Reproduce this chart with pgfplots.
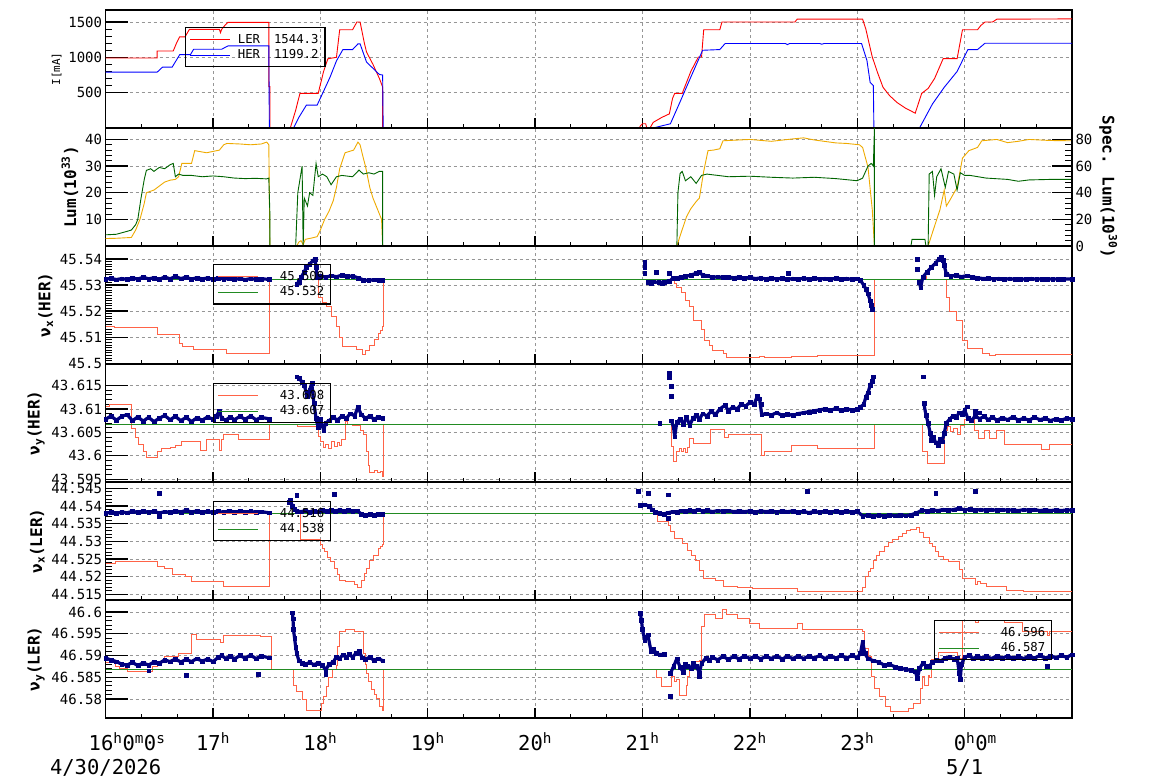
\documentclass[border=0pt]{standalone}
\usepackage{fontspec}
\setmainfont{DejaVu Sans Mono}
\usepackage{pgfplots}
\pgfplotsset{compat=1.18}
\definecolor{lerred}{RGB}{255,0,0}
\definecolor{herblue}{RGB}{0,0,255}
\definecolor{lumorange}{RGB}{238,170,0}
\definecolor{lumgreen}{RGB}{0,100,0}
\definecolor{setred}{RGB}{255,99,71}
\definecolor{refgreen}{RGB}{34,139,34}
\definecolor{navydot}{RGB}{0,0,128}
\definecolor{gridgray}{RGB}{150,150,150}
\pgfplotsset{
 panel/.style={
  scale only axis, width=966.4pt, height=118pt, anchor=north west,
  xmin=16, xmax=25,
  xtick={16,...,25}, minor x tick num=2, xticklabels={},
  scaled y ticks=false,
  tick align=inside, xtick pos=bottom, ytick pos=left,
  xmajorgrids, ymajorgrids,
  major grid style={dash pattern=on 3pt off 3pt, gridgray, line width=0.7pt},
  axis line style={line width=1.3pt},
  major tick length=22pt, minor tick length=6pt,
  major tick style={line width=1.3pt, black},
  minor tick style={line width=0.9pt, black},
  xtick style={/pgfplots/major tick length=10pt, /pgfplots/minor tick length=4pt},
  tick label style={font=\fontsize{14}{16}\selectfont},
  legend image code/.code={\draw[##1] (0pt,0pt) -- (40pt,0pt);},
  legend style={draw=black, line width=1.2pt, fill=none, font=\fontsize{12.3}{15}\selectfont,
    anchor=north west, cells={anchor=west}, inner sep=4.5pt, column sep=5pt, row sep=1pt},
 },
 setline/.style={setred, line width=0.9pt, const plot},
 refline/.style={refgreen, line width=0.9pt},
 band/.style={navydot, line width=3.2pt, line join=round, mark=square*, mark size=1.9pt,
   mark options={line width=0.3pt, line join=miter}, unbounded coords=jump, forget plot},
 outl/.style={navydot, only marks, mark=square*, mark size=1.9pt, mark options={line width=0.3pt}, forget plot},
}
\begin{document}
\begin{tikzpicture}
\useasboundingbox (0,0) rectangle (1154pt,782pt);

% ---------------- Panel 1: currents
\begin{axis}[panel, at={(105.6pt,772pt)}, ymin=0, ymax=1670,
  ytick={500,1000,1500}, yticklabels={500,1000,1500}, minor y tick num=4,
  ylabel={\fontsize{11}{12}\selectfont I[mA]},
  legend style={at={(0.082,0.856)}}]
\addplot[lerred, line width=0.9pt] coordinates {(16.00,990) (16.48,990) (16.48,1090) (16.63,1090) (16.66,1200) (16.69,1290) (16.74,1290) (16.78,1395) (17.06,1395) (17.07,1350) (17.08,1395) (17.11,1450) (17.14,1495) (17.52,1495) (17.52,585) (17.53,585) (17.53,0) (17.72,0) (17.77,250) (17.81,490) (17.98,490) (18.03,800) (18.07,980) (18.15,1000) (18.18,1390) (18.30,1390) (18.34,1500) (18.37,1500) (18.41,1200) (18.43,1075) (18.49,900) (18.55,700) (18.58,580) (18.58,0) (20.97,0) (20.98,30) (21.00,60) (21.03,60) (21.04,0) (21.07,0) (21.10,80) (21.18,150) (21.25,200) (21.28,420) (21.30,490) (21.37,490) (21.45,800) (21.52,1005) (21.55,1005) (21.57,1390) (21.72,1390) (21.74,1500) (22.42,1500) (22.44,1540) (23.05,1540) (23.08,1400) (23.11,1200) (23.14,1005) (23.19,780) (23.24,576) (23.30,460) (23.37,361) (23.45,280) (23.54,210) (23.57,350) (23.60,490) (23.66,560) (23.72,700) (23.80,981) (23.93,981) (23.98,1390) (24.12,1390) (24.15,1450) (24.19,1500) (24.26,1500) (24.30,1540) (25.00,1544)};
\addlegendentry{LER\hspace{14pt}1544.3}
\addplot[herblue, line width=0.9pt] coordinates {(16.00,790) (16.48,790) (16.53,861) (16.62,861) (16.69,1038) (16.79,1038) (16.82,1114) (17.08,1114) (17.14,1162) (17.52,1162) (17.525,0) (17.75,0) (17.80,150) (17.87,324) (17.97,324) (18.03,520) (18.09,719) (18.15,950) (18.21,1110) (18.30,1110) (18.35,1190) (18.37,1190) (18.43,933) (18.50,830) (18.55,757) (18.58,750) (18.585,0) (21.10,0) (21.26,60) (21.35,370) (21.45,720) (21.56,1100) (21.72,1110) (21.77,1196) (22.33,1196) (22.35,1180) (22.37,1196) (22.65,1196) (22.67,1185) (22.69,1196) (23.04,1196) (23.09,957) (23.12,647) (23.15,600) (23.155,0) (23.58,0) (23.70,339) (23.81,576) (23.93,800) (24.03,1110) (24.12,1110) (24.19,1200) (25.00,1200)};
\addlegendentry{HER\hspace{14pt}1199.2}
\end{axis}

% ---------------- Panel 2: luminosity
\begin{axis}[panel, at={(105.6pt,654pt)}, ymin=0, ymax=44.3,
  ytick={10,20,30,40}, yticklabels={10,20,30,40}, minor y tick num=4,
  ylabel={\fontsize{16}{18}\selectfont\bfseries Lum(10\textsuperscript{33})}]
\addplot[lumorange, line width=0.9pt] coordinates {(16.00,2.8) (16.10,2.9) (16.24,3.2) (16.28,6) (16.32,10) (16.36,16) (16.38,20) (16.45,21) (16.50,22.5) (16.55,24) (16.60,24.7) (16.65,25) (16.68,26) (16.71,31) (16.80,31) (16.83,35.8) (16.94,35) (17.00,35.5) (17.06,36) (17.10,38) (17.13,38.5) (17.25,38.3) (17.35,38) (17.45,38.3) (17.50,39) (17.52,38) (17.53,0) (17.78,0) (17.80,1.5) (17.82,2) (17.84,0.5) (17.86,2.5) (17.92,3) (17.97,3.5) (18.00,6) (18.04,10) (18.08,13) (18.12,17) (18.15,22) (18.18,29) (18.23,35) (18.31,36) (18.35,39) (18.37,38) (18.40,33) (18.42,30) (18.46,22) (18.49,18) (18.52,15) (18.57,10) (18.58,0) (21.32,0) (21.36,5) (21.41,11) (21.45,14) (21.50,16.7) (21.53,18) (21.57,28) (21.61,35.8) (21.66,36) (21.72,36.5) (21.75,39.5) (21.90,39.8) (22.00,40) (22.20,39.3) (22.40,40.2) (22.50,40.6) (22.60,39.8) (22.80,38.7) (22.90,38.5) (23.02,38) (23.05,37) (23.10,29.6) (23.14,13.6) (23.16,0) (23.66,0) (23.70,5) (23.77,13.6) (23.81,21) (23.83,15) (23.86,17) (23.93,22) (23.98,33) (24.04,35.8) (24.12,37) (24.16,39.5) (24.30,40) (24.40,38.8) (24.50,39.3) (24.60,40) (24.80,39.6) (25.00,39.5)};
\addplot[lumgreen, line width=0.9pt] coordinates {(16.00,4.2) (16.10,4.4) (16.20,5.5) (16.24,6) (16.28,8) (16.30,10) (16.33,18) (16.36,25) (16.38,28.4) (16.42,29) (16.45,28) (16.50,29.5) (16.55,29) (16.60,30.5) (16.63,31) (16.65,26) (16.68,27) (16.72,26.5) (16.80,26.5) (16.90,26) (17.00,26.3) (17.10,26) (17.20,25.5) (17.30,25.3) (17.40,25.4) (17.50,25.2) (17.52,25.5) (17.53,12) (17.53,0) (17.77,0) (17.79,20) (17.83,30) (17.84,0) (17.85,18) (17.88,15) (17.90,20) (17.93,19) (17.96,31) (17.98,26) (18.02,27) (18.06,26) (18.10,23) (18.15,26) (18.20,26.5) (18.30,26) (18.36,28.5) (18.40,27) (18.45,27.5) (18.50,27) (18.55,28) (18.58,28) (18.58,0) (21.32,0) (21.33,20) (21.35,27.2) (21.37,28) (21.40,24.5) (21.45,26) (21.50,23.5) (21.55,26.5) (21.60,27) (21.70,26.5) (21.80,26) (22.00,26.2) (22.20,25.8) (22.40,25.5) (22.60,25.8) (22.80,25.3) (23.00,24.5) (23.05,25.5) (23.10,30) (23.13,31) (23.15,30) (23.16,44.3) (23.16,0) (23.50,0) (23.51,2.5) (23.63,2.5) (23.64,0) (23.66,0) (23.67,27) (23.70,28) (23.72,19) (23.74,26) (23.78,29) (23.82,22) (23.85,28) (23.90,27) (23.93,21) (23.96,27.5) (24.00,26.5) (24.05,26.5) (24.20,25.5) (24.40,25) (24.50,24.3) (24.60,24.8) (24.80,25) (25.00,25)};
\end{axis}
\begin{axis}[scale only axis, width=966.4pt, height=118pt, anchor=north west, at={(105.6pt,654pt)},
  xmin=16, xmax=25, ymin=0, ymax=88.6, axis x line=none, axis y line*=right,
  ytick={0,20,40,60,80}, yticklabels={0,20,40,60,80}, minor y tick num=4,
  tick align=inside, major tick length=20pt, minor tick length=7pt,
  axis line style={line width=1.3pt},
  major tick style={line width=1.3pt, black}, minor tick style={line width=0.9pt, black},
  tick label style={font=\fontsize{14}{16}\selectfont},
  ylabel={\fontsize{16}{18}\selectfont\bfseries Spec. Lum(10\textsuperscript{30})},
  ylabel style={rotate=180}]
\end{axis}

% ---------------- Panel 3: nu_x(HER)
\begin{axis}[panel, at={(105.6pt,536pt)}, ymin=45.4997, ymax=45.545,
  ytick={45.5,45.51,45.52,45.53,45.54}, yticklabels={45.5,45.51,45.52,45.53,45.54}, minor y tick num=9,
  ylabel={\fontsize{16}{18}\selectfont\bfseries ν\textsubscript{x}(HER)},
  legend style={at={(0.111,0.847)}}]
\addplot[setline] table {
16.00 45.5142
16.08 45.5136
16.48 45.5111
16.69 45.5076
16.72 45.5066
16.82 45.5053
17.13 45.5038
17.53 45.5320
17.95 45.5336
17.98 45.5254
18.02 45.5235
18.06 45.5216
18.10 45.5180
18.15 45.5140
18.18 45.5100
18.21 45.5063
18.34 45.5051
18.39 45.5032
18.42 45.5050
18.46 45.5070
18.50 45.5090
18.54 45.5114
18.56 45.5125
18.58 45.5140
18.585 45.5320
21.26 45.5320
21.30 45.5305
21.32 45.5292
21.36 45.5270
21.40 45.5240
21.44 45.5216
21.47 45.5165
21.55 45.5130
21.58 45.5089
21.62 45.5070
21.65 45.5050
21.75 45.5038
21.78 45.5023
22.09 45.5026
22.14 45.5023
22.39 45.5027
22.63 45.5031
23.16 45.5320
23.61 45.5335
23.64 45.5320
23.83 45.5254
23.86 45.5197
23.92 45.5165
23.98 45.5089
24.03 45.5057
24.17 45.5038
24.23 45.5028
24.29 45.5032
24.72 45.5034
25.00 45.5034
};
\addlegendentry{\hspace{14pt}45.509}
\addplot[refline] coordinates {(16,45.532) (25,45.532)};
\addlegendentry{\hspace{14pt}45.532}
\addplot[band] table {
16.00 45.5323
16.05 45.5326
16.10 45.5321
16.15 45.5325
16.20 45.5322
16.25 45.5327
16.30 45.5323
16.35 45.5330
16.40 45.5324
16.45 45.5328
16.50 45.5322
16.55 45.5331
16.60 45.5324
16.65 45.5333
16.70 45.5325
16.75 45.5330
16.80 45.5323
16.85 45.5328
16.90 45.5324
16.95 45.5327
17.00 45.5322
17.05 45.5328
17.10 45.5323
17.15 45.5326
17.20 45.5322
17.25 45.5325
17.30 45.5321
17.35 45.5325
17.40 45.5322
17.45 45.5324
17.52 45.5322
17.60 nan
17.78 45.5305
17.80 45.5312
17.82 45.5330
17.85 45.5350
17.87 45.5370
17.90 45.5380
17.93 45.5394
17.95 45.5400
17.96 45.5370
17.97 45.5330
18.00 45.5334
18.05 45.5330
18.10 45.5336
18.15 45.5332
18.20 45.5338
18.25 45.5333
18.30 45.5335
18.35 45.5328
18.40 45.5320
18.45 45.5318
18.50 45.5321
18.55 45.5318
18.58 45.5320
19.00 nan
21.05 45.5311
21.10 45.5313
21.15 45.5310
21.20 45.5312
21.25 45.5314
21.28 45.5326
21.32 45.5328
21.36 45.5330
21.40 45.5333
21.45 45.5338
21.50 45.5345
21.53 45.5350
21.56 45.5338
21.60 45.5336
21.65 45.5330
21.70 45.5332
21.75 45.5329
21.80 45.5331
21.85 45.5328
21.90 45.5330
21.95 45.5327
22.00 45.5329
22.05 45.5325
22.10 45.5327
22.15 45.5324
22.20 45.5327
22.25 45.5323
22.30 45.5326
22.35 45.5322
22.40 45.5325
22.45 45.5323
22.50 45.5326
22.55 45.5322
22.60 45.5326
22.65 45.5323
22.70 45.5325
22.75 45.5322
22.80 45.5326
22.85 45.5323
22.90 45.5325
22.95 45.5322
23.00 45.5325
23.03 45.5318
23.06 45.5300
23.08 45.5285
23.10 45.5267
23.12 45.5240
23.13 45.5222
23.14 45.5209
23.30 nan
23.58 45.5311
23.59 45.5290
23.61 45.5330
23.65 45.5350
23.69 45.5368
23.73 45.5385
23.76 45.5400
23.78 45.5409
23.80 45.5395
23.81 45.5375
23.83 45.5343
23.87 45.5334
23.92 45.5337
23.97 45.5332
24.02 45.5336
24.07 45.5331
24.12 45.5328
24.17 45.5325
24.22 45.5326
24.27 45.5323
24.32 45.5325
24.37 45.5322
24.42 45.5325
24.47 45.5322
24.52 45.5324
24.57 45.5322
24.62 45.5325
24.67 45.5322
24.72 45.5324
24.77 45.5322
24.82 45.5324
24.87 45.5322
24.92 45.5324
25.00 45.5323
};
\addplot[outl] coordinates {(21.02,45.5387) (21.02,45.5368) (21.02,45.5347) (21.13,45.5350) (21.25,45.5347) (22.36,45.5345) (23.56,45.5400) (23.56,45.5362) (21.08,45.5306) (21.18,45.5306)};
\end{axis}

% ---------------- Panel 4: nu_y(HER)
\begin{axis}[panel, at={(105.6pt,418pt)}, ymin=43.5944, ymax=43.6196,
  ytick={43.595,43.6,43.605,43.61,43.615}, yticklabels={43.595,43.6,43.605,43.61,43.615}, minor y tick num=4,
  ylabel={\fontsize{16}{18}\selectfont\bfseries ν\textsubscript{y}(HER)},
  legend style={at={(0.111,0.839)}}]
\addplot[setline] table {
16.00 43.6105
16.04 43.6109
16.24 43.6059
16.28 43.6040
16.31 43.6025
16.35 43.6010
16.38 43.5997
16.48 43.6010
16.52 43.6015
16.60 43.6018
16.65 43.6022
16.71 43.6030
16.88 43.6011
16.94 43.6034
17.06 43.6012
17.08 43.6034
17.10 43.6045
17.24 43.6034
17.53 43.6067
17.79 43.6062
17.98 43.6041
18.00 43.6030
18.03 43.6018
18.05 43.6025
18.08 43.6016
18.10 43.6030
18.13 43.6020
18.16 43.6028
18.18 43.6022
18.20 43.6035
18.23 43.6073
18.25 43.6067
18.30 43.6065
18.37 43.6055
18.40 43.6045
18.43 43.6010
18.45 43.5980
18.46 43.5965
18.50 43.5968
18.53 43.5964
18.56 43.5966
18.58 43.5955
18.585 43.6067
21.27 43.6020
21.29 43.5988
21.32 43.6009
21.34 43.6015
21.36 43.6010
21.38 43.6016
21.40 43.6008
21.42 43.6018
21.44 43.6038
21.47 43.6027
21.63 43.6057
21.76 43.6040
21.80 43.6045
22.11 43.6000
22.14 43.6009
22.39 43.6021
22.63 43.6016
23.16 43.6067
23.61 43.6009
23.65 43.5984
23.81 43.6055
23.84 43.6062
23.87 43.6052
23.90 43.6058
23.93 43.6045
23.96 43.6065
24.00 43.6077
24.09 43.6055
24.13 43.6037
24.18 43.6055
24.23 43.6037
24.30 43.6055
24.37 43.6025
24.72 43.6014
24.79 43.6025
25.00 43.6025
};
\addlegendentry{\hspace{14pt}43.608}
\addplot[refline] coordinates {(16,43.6067) (25,43.6067)};
\addlegendentry{\hspace{14pt}43.607}
\addplot[band] table {
16.00 43.6078
16.05 43.6085
16.10 43.6076
16.15 43.6084
16.20 43.6088
16.25 43.6075
16.30 43.6083
16.35 43.6074
16.40 43.6082
16.45 43.6073
16.50 43.6080
16.55 43.6086
16.60 43.6077
16.65 43.6084
16.70 43.6075
16.75 43.6082
16.80 43.6073
16.85 43.6081
16.90 43.6076
16.95 43.6083
17.00 43.6078
17.03 43.6085
17.06 43.6095
17.08 43.6080
17.12 43.6076
17.16 43.6083
17.20 43.6077
17.25 43.6084
17.30 43.6078
17.35 43.6085
17.40 43.6077
17.45 43.6082
17.52 43.6079
17.60 nan
17.78 43.6169
17.80 43.6165
17.83 43.6158
17.85 43.6150
17.88 43.6127
17.90 43.6140
17.92 43.6155
17.94 43.6112
17.96 43.6080
17.98 43.6060
18.00 43.6078
18.03 43.6055
18.05 43.6070
18.08 43.6075
18.12 43.6082
18.16 43.6076
18.20 43.6085
18.24 43.6080
18.28 43.6090
18.32 43.6085
18.35 43.6105
18.38 43.6088
18.42 43.6080
18.46 43.6085
18.50 43.6078
18.54 43.6083
18.58 43.6080
19.00 nan
21.27 43.6075
21.29 43.6060
21.30 43.6041
21.32 43.6072
21.35 43.6078
21.38 43.6068
21.41 43.6082
21.44 43.6065
21.47 43.6080
21.50 43.6086
21.53 43.6078
21.56 43.6090
21.60 43.6085
21.64 43.6095
21.68 43.6088
21.72 43.6100
21.77 43.6108
21.80 43.6096
21.84 43.6104
21.88 43.6100
21.92 43.6110
21.96 43.6106
22.00 43.6114
22.04 43.6110
22.07 43.6128
22.09 43.6122
22.11 43.6088
22.15 43.6090
22.20 43.6087
22.25 43.6092
22.30 43.6086
22.35 43.6089
22.40 43.6086
22.45 43.6090
22.50 43.6092
22.55 43.6094
22.60 43.6096
22.65 43.6098
22.70 43.6100
22.75 43.6097
22.80 43.6101
22.85 43.6097
22.90 43.6100
22.95 43.6098
23.00 43.6099
23.03 43.6104
23.06 43.6110
23.08 43.6125
23.10 43.6135
23.12 43.6150
23.14 43.6160
23.15 43.6169
23.30 nan
23.62 43.6112
23.64 43.6087
23.66 43.6070
23.68 43.6048
23.69 43.6034
23.71 43.6040
23.73 43.6028
23.75 43.6023
23.77 43.6036
23.79 43.6030
23.81 43.6048
23.83 43.6070
23.86 43.6078
23.89 43.6085
23.92 43.6082
23.95 43.6092
23.98 43.6088
24.00 43.6098
24.03 43.6080
24.06 43.6075
24.10 43.6085
24.14 43.6079
24.18 43.6084
24.22 43.6077
24.26 43.6082
24.30 43.6076
24.35 43.6081
24.40 43.6077
24.45 43.6083
24.50 43.6076
24.55 43.6080
24.60 43.6076
24.65 43.6082
24.70 43.6077
24.75 43.6080
24.80 43.6075
24.85 43.6079
24.90 43.6076
24.95 43.6080
25.00 43.6078
};
\addplot[outl] coordinates {(21.16,43.6070) (21.25,43.6177) (21.25,43.6167) (21.27,43.6148) (21.27,43.6127) (23.61,43.6169) (24.02,43.6105) (24.10,43.6095) (24.14,43.6092) (22.11,43.6110)};
\end{axis}

% ---------------- Panel 5: nu_x(LER)
\begin{axis}[panel, at={(105.6pt,300pt)}, ymin=44.5134, ymax=44.5468,
  ytick={44.515,44.52,44.525,44.53,44.535,44.54,44.545}, yticklabels={44.515,44.52,44.525,44.53,44.535,44.54,44.545}, minor y tick num=4,
  ylabel={\fontsize{16}{18}\selectfont\bfseries ν\textsubscript{x}(LER)},
  legend style={at={(0.111,0.839)}}]
\addplot[setline] table {
16.00 44.5238
16.09 44.5244
16.48 44.5228
16.55 44.5224
16.62 44.5205
16.74 44.5201
16.80 44.5186
17.10 44.5173
17.40 44.5171
17.53 44.5379
17.81 44.5304
18.00 44.5290
18.02 44.5280
18.04 44.5271
18.07 44.5255
18.09 44.5242
18.13 44.5224
18.16 44.5205
18.18 44.5190
18.23 44.5186
18.32 44.5178
18.35 44.5170
18.38 44.5190
18.41 44.5210
18.43 44.5224
18.46 44.5245
18.49 44.5261
18.54 44.5280
18.56 44.5285
18.58 44.5290
18.585 44.5379
21.14 44.5355
21.24 44.5345
21.26 44.5327
21.30 44.5308
21.37 44.5295
21.42 44.5275
21.46 44.5260
21.49 44.5247
21.53 44.5219
21.57 44.5195
21.68 44.5190
21.75 44.5173
21.88 44.5170
22.02 44.5167
22.44 44.5159
23.05 44.5170
23.08 44.5200
23.10 44.5215
23.12 44.5224
23.15 44.5245
23.18 44.5260
23.21 44.5271
23.25 44.5285
23.29 44.5296
23.33 44.5304
23.38 44.5315
23.42 44.5322
23.46 44.5332
23.50 44.5335
23.55 44.5338
23.58 44.5325
23.62 44.5310
23.67 44.5294
23.70 44.5285
23.73 44.5270
23.76 44.5256
23.80 44.5250
23.85 44.5242
23.95 44.5220
23.98 44.5195
24.10 44.5178
24.12 44.5186
24.15 44.5180
24.20 44.5172
24.39 44.5162
24.55 44.5159
25.00 44.5159
};
\addlegendentry{\hspace{14pt}44.516}
\addplot[refline] coordinates {(16,44.5379) (25,44.5379)};
\addlegendentry{\hspace{14pt}44.538}
\addplot[band] table {
16.00 44.5380
16.05 44.5382
16.10 44.5379
16.15 44.5383
16.20 44.5381
16.25 44.5385
16.30 44.5382
16.35 44.5386
16.40 44.5382
16.45 44.5385
16.50 44.5380
16.55 44.5384
16.60 44.5382
16.65 44.5386
16.70 44.5383
16.75 44.5388
16.80 44.5383
16.85 44.5386
16.90 44.5382
16.95 44.5385
17.00 44.5382
17.05 44.5385
17.10 44.5382
17.15 44.5386
17.20 44.5383
17.25 44.5385
17.30 44.5382
17.35 44.5385
17.40 44.5382
17.45 44.5384
17.52 44.5381
17.60 nan
17.72 44.5417
17.74 44.5400
17.76 44.5392
17.78 44.5386
17.82 44.5384
17.86 44.5387
17.90 44.5383
17.94 44.5386
17.98 44.5384
18.02 44.5388
18.06 44.5385
18.10 44.5388
18.14 44.5386
18.18 44.5389
18.22 44.5386
18.26 44.5388
18.30 44.5385
18.34 44.5387
18.38 44.5378
18.42 44.5374
18.46 44.5377
18.50 44.5375
18.54 44.5377
18.58 44.5376
19.00 nan
20.98 44.5403
21.02 44.5404
21.06 44.5400
21.09 44.5390
21.12 44.5382
21.16 44.5379
21.20 44.5378
21.24 44.5381
21.28 44.5384
21.32 44.5383
21.36 44.5387
21.40 44.5385
21.44 44.5388
21.48 44.5386
21.52 44.5390
21.56 44.5385
21.60 44.5388
21.65 44.5384
21.70 44.5387
21.75 44.5385
21.80 44.5387
21.85 44.5384
21.90 44.5386
21.95 44.5384
22.00 44.5386
22.05 44.5383
22.10 44.5386
22.15 44.5384
22.20 44.5386
22.25 44.5383
22.30 44.5386
22.35 44.5384
22.40 44.5386
22.45 44.5383
22.50 44.5385
22.55 44.5381
22.60 44.5385
22.65 44.5382
22.70 44.5385
22.75 44.5383
22.80 44.5385
22.85 44.5383
22.90 44.5385
22.95 44.5383
23.00 44.5385
23.05 44.5372
23.10 44.5374
23.15 44.5371
23.20 44.5374
23.25 44.5372
23.30 44.5375
23.35 44.5373
23.40 44.5375
23.45 44.5373
23.50 44.5375
23.55 44.5380
23.60 44.5388
23.65 44.5386
23.70 44.5389
23.75 44.5387
23.80 44.5390
23.85 44.5388
23.90 44.5390
23.95 44.5394
24.00 44.5389
24.05 44.5391
24.10 44.5388
24.15 44.5390
24.20 44.5388
24.25 44.5390
24.30 44.5388
24.35 44.5390
24.40 44.5388
24.45 44.5389
24.50 44.5387
24.55 44.5390
24.60 44.5388
24.65 44.5390
24.70 44.5387
24.75 44.5389
24.80 44.5387
24.85 44.5389
24.90 44.5387
24.95 44.5389
25.00 44.5388
};
\addplot[outl] coordinates {(16.50,44.5436) (16.50,44.5372) (17.78,44.5431) (18.13,44.5434) (20.96,44.5443) (21.05,44.5436) (21.24,44.5432) (21.24,44.5365) (22.53,44.5443) (23.73,44.5436) (24.10,44.5442) (17.71,44.5412)};
\end{axis}

% ---------------- Panel 6: nu_y(LER)
\begin{axis}[panel, at={(105.6pt,182pt)}, ymin=46.5756, ymax=46.6028,
  ytick={46.58,46.585,46.59,46.595,46.6}, yticklabels={46.58,46.585,46.59,46.595,46.6}, minor y tick num=4,
  ylabel={\fontsize{16}{18}\selectfont\bfseries ν\textsubscript{y}(LER)},
  xticklabels={{16\textsuperscript{h}\rlap{0\textsuperscript{m}0\textsuperscript{s}}\\4/30/2026},17\textsuperscript{h},18\textsuperscript{h},19\textsuperscript{h},20\textsuperscript{h},21\textsuperscript{h},22\textsuperscript{h},23\textsuperscript{h},{0\textsuperscript{h}\rlap{0\textsuperscript{m}}\\5/1},{}},
  xticklabel style={font=\fontsize{20.5}{24}\selectfont, align=center, yshift=-11pt},
  legend style={at={(0.857,0.831)}}]
\addplot[setline] table {
16.00 46.5884
16.09 46.5875
16.13 46.5870
16.20 46.5863
16.44 46.5875
16.48 46.5886
16.55 46.5898
16.68 46.5905
16.80 46.5948
16.85 46.5938
17.07 46.5930
17.10 46.5946
17.44 46.5943
17.54 46.5869
17.75 46.5832
17.78 46.5817
17.83 46.5798
17.87 46.5773
18.01 46.5790
18.03 46.5805
18.06 46.5828
18.08 46.5850
18.11 46.5867
18.15 46.5878
18.16 46.5920
18.18 46.5955
18.23 46.5961
18.32 46.5955
18.40 46.5905
18.42 46.5880
18.43 46.5859
18.45 46.5840
18.48 46.5821
18.50 46.5810
18.52 46.5800
18.55 46.5782
18.58 46.5773
18.585 46.5869
21.13 46.5850
21.18 46.5828
21.27 46.5852
21.30 46.5840
21.32 46.5845
21.34 46.5809
21.41 46.5830
21.42 46.5852
21.44 46.5870
21.47 46.5886
21.53 46.5889
21.55 46.5967
21.58 46.5995
21.68 46.5985
21.74 46.6007
21.78 46.5995
21.88 46.5985
22.00 46.5973
22.09 46.5962
22.44 46.5975
22.49 46.5960
23.05 46.5955
23.07 46.5916
23.10 46.5898
23.13 46.5851
23.16 46.5825
23.21 46.5805
23.26 46.5782
23.31 46.5771
23.48 46.5778
23.52 46.5790
23.59 46.5825
23.61 46.5851
23.63 46.5830
23.66 46.5855
23.67 46.5850
23.69 46.5890
23.74 46.5894
23.76 46.5907
23.93 46.5894
23.98 46.5982
24.10 46.5977
24.13 46.5982
24.37 46.5977
24.54 46.5955
24.77 46.5946
24.79 46.5955
25.00 46.5955
};
\addlegendentry{\hspace{14pt}46.596}
\addplot[refline] coordinates {(16,46.5869) (25,46.5869)};
\addlegendentry{\hspace{14pt}46.587}
\addplot[band] table {
16.00 46.5894
16.05 46.5890
16.10 46.5886
16.15 46.5880
16.20 46.5878
16.25 46.5884
16.30 46.5877
16.35 46.5883
16.40 46.5878
16.45 46.5885
16.50 46.5882
16.55 46.5890
16.60 46.5886
16.65 46.5892
16.70 46.5885
16.75 46.5891
16.80 46.5886
16.85 46.5893
16.90 46.5887
16.95 46.5892
17.00 46.5886
17.05 46.5896
17.08 46.5900
17.12 46.5893
17.16 46.5899
17.20 46.5892
17.25 46.5900
17.30 46.5894
17.35 46.5901
17.40 46.5893
17.45 46.5899
17.52 46.5895
17.60 nan
17.74 46.5999
17.745 46.5985
17.75 46.5960
17.76 46.5940
17.77 46.5920
17.78 46.5905
17.80 46.5888
17.83 46.5883
17.86 46.5880
17.90 46.5884
17.94 46.5879
17.98 46.5883
18.02 46.5878
18.05 46.5866
18.08 46.5880
18.12 46.5885
18.15 46.5897
18.18 46.5893
18.21 46.5902
18.24 46.5895
18.27 46.5903
18.30 46.5896
18.33 46.5905
18.36 46.5910
18.39 46.5895
18.42 46.5892
18.46 46.5896
18.50 46.5889
18.54 46.5893
18.58 46.5888
19.00 nan
20.98 46.5998
20.99 46.5982
21.00 46.5960
21.02 46.5936
21.05 46.5948
21.08 46.5909
21.10 46.5915
21.13 46.5905
21.16 46.5902
21.20 46.5903
21.23 nan
21.26 46.5859
21.29 46.5875
21.32 46.5893
21.35 46.5873
21.38 46.5862
21.40 46.5880
21.42 46.5876
21.45 46.5870
21.47 46.5882
21.50 46.5876
21.53 46.5860
21.55 46.5882
21.59 46.5894
21.62 46.5888
21.65 46.5896
21.70 46.5890
21.75 46.5898
21.80 46.5891
21.85 46.5898
21.90 46.5892
21.95 46.5899
22.00 46.5893
22.05 46.5899
22.10 46.5892
22.15 46.5898
22.20 46.5893
22.25 46.5899
22.30 46.5892
22.35 46.5898
22.40 46.5893
22.45 46.5899
22.50 46.5893
22.55 46.5899
22.60 46.5894
22.65 46.5900
22.70 46.5893
22.75 46.5899
22.80 46.5894
22.85 46.5900
22.90 46.5894
22.95 46.5900
23.00 46.5895
23.03 46.5905
23.05 46.5932
23.07 46.5905
23.10 46.5893
23.15 46.5888
23.20 46.5885
23.25 46.5878
23.30 46.5880
23.35 46.5874
23.40 46.5871
23.45 46.5868
23.50 46.5866
23.54 46.5863
23.56 46.5848
23.58 46.5870
23.61 46.5882
23.64 46.5876
23.67 46.5875
23.70 46.5884
23.74 46.5890
23.78 46.5888
23.82 46.5894
23.86 46.5896
23.90 46.5892
23.93 46.5895
23.95 46.5859
23.96 46.5846
23.97 46.5880
24.00 46.5896
24.04 46.5900
24.08 46.5893
24.12 46.5899
24.16 46.5894
24.20 46.5898
24.25 46.5893
24.30 46.5899
24.35 46.5894
24.40 46.5899
24.45 46.5894
24.50 46.5898
24.55 46.5893
24.60 46.5899
24.65 46.5894
24.70 46.5900
24.75 46.5894
24.80 46.5899
24.85 46.5895
24.90 46.5900
24.95 46.5896
25.00 46.5902
};
\addplot[outl] coordinates {(16.75,46.5855) (17.42,46.5857) (16.40,46.5865) (21.26,46.5807) (24.77,46.5875) (18.05,46.5858) (21.53,46.5852)};
\end{axis}
\end{tikzpicture}
\end{document}
